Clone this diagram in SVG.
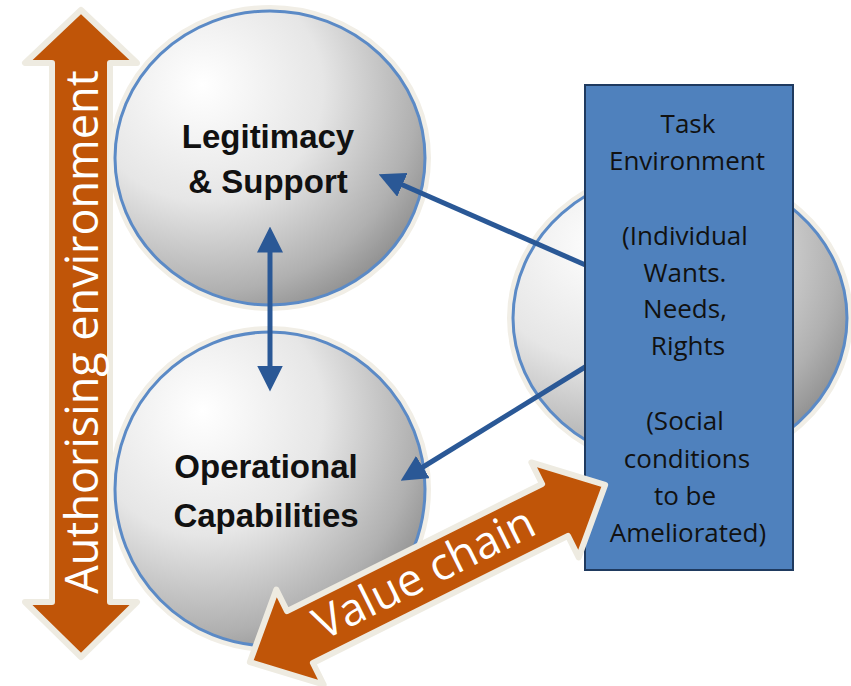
<svg xmlns="http://www.w3.org/2000/svg" width="851" height="686" viewBox="0 0 851 686">
  <defs>
    <radialGradient id="ballGrad" cx="0.3" cy="0.28" r="0.85" fx="0.28" fy="0.25">
      <stop offset="0" stop-color="#ffffff"/>
      <stop offset="0.45" stop-color="#e6e6e6"/>
      <stop offset="0.8" stop-color="#b0b0b0"/>
      <stop offset="1" stop-color="#858585"/>
    </radialGradient>
    <marker id="arrowHead" markerUnits="userSpaceOnUse" markerWidth="26" markerHeight="26" viewBox="0 0 24 24" refX="6" refY="12" orient="auto-start-reverse">
      <path d="M0,0 L24,12 L0,24 z" fill="#2a5896"/>
    </marker>
    <style>
      .ball { fill: url(#ballGrad); stroke: #5b8ac6; stroke-width: 3; }
      .ballGlow { fill: none; stroke: #f1eee6; stroke-width: 8; }
      .nodeLabel { font-family: "Liberation Sans", Arial, sans-serif; font-weight: bold; font-size: 33px; fill: #111111; text-anchor: middle; }
      .conn { stroke: #2a5896; stroke-width: 5; fill: none; marker-end: url(#arrowHead); }
      .bigArrow { fill: #c05508; stroke: #eeebe1; stroke-width: 6; stroke-linejoin: round; }
      .bigLabel { font-family: "Open Sans", "Noto Sans", sans-serif; font-size: 45px; fill: #ffffff; text-anchor: middle; }
      .task { fill: #4f81bd; stroke: #1f3a5f; stroke-width: 2; }
      .taskText { font-family: "Open Sans", "Noto Sans", sans-serif; font-size: 26px; fill: #111111; text-anchor: middle; }
    </style>
  </defs>

  <rect width="851" height="686" fill="#ffffff"/>

  <g id="authorising-environment">
    <polygon class="bigArrow" points="81,10 25,63 52,63 52,602 25,602 81,657 137,602 110,602 110,63 137,63"/>
    <text class="bigLabel" transform="translate(98,332) rotate(-90)" x="0" y="0">Authorising environment</text>
  </g>

  <g id="legitimacy-support">
    <ellipse class="ballGlow" cx="270" cy="158" rx="157" ry="149"/>
    <ellipse class="ball" cx="270" cy="158" rx="155" ry="147"/>
    <text class="nodeLabel" x="268" y="148">Legitimacy</text>
    <text class="nodeLabel" x="268" y="193">&amp; Support</text>
  </g>

  <g id="operational-capabilities">
    <ellipse class="ballGlow" cx="270" cy="489" rx="157" ry="159"/>
    <ellipse class="ball" cx="270" cy="489" rx="155" ry="157"/>
    <text class="nodeLabel" x="266" y="478">Operational</text>
    <text class="nodeLabel" x="266" y="527">Capabilities</text>
  </g>

  <g id="public-value">
    <ellipse class="ballGlow" cx="680" cy="318" rx="169" ry="150"/>
    <ellipse class="ball" cx="680" cy="318" rx="167" ry="148"/>
  </g>

  <g id="connectors">
    <line class="conn" x1="270" y1="246" x2="270" y2="372" marker-start="url(#arrowHead)"/>
    <line class="conn" x1="590" y1="267" x2="396.5" y2="182.2"/>
    <line class="conn" x1="590" y1="364" x2="417.3" y2="470.5"/>
  </g>

  <g id="task-environment">
    <rect class="task" x="585" y="85" width="208" height="485"/>
    <text class="taskText" x="688" y="133">Task</text>
    <text class="taskText" x="687" y="170">Environment</text>
    <text class="taskText" x="685" y="245">(Individual</text>
    <text class="taskText" x="685" y="282">Wants.</text>
    <text class="taskText" x="685" y="318">Needs,</text>
    <text class="taskText" x="688" y="355">Rights</text>
    <text class="taskText" x="685" y="430">(Social</text>
    <text class="taskText" x="687" y="468">conditions</text>
    <text class="taskText" x="685" y="505">to be</text>
    <text class="taskText" x="688" y="542">Ameliorated)</text>
  </g>

  <g id="value-chain">
    <polygon class="bigArrow" transform="translate(427.5,573.5) rotate(-26.5)" points="-198.5,0 -142.5,-53 -142.5,-29 142.5,-29 142.5,-53 198.5,0 142.5,53 142.5,29 -142.5,29 -142.5,53"/>
    <text class="bigLabel" transform="translate(431,587) rotate(-26.5)" x="0" y="0">Value chain</text>
  </g>
</svg>
